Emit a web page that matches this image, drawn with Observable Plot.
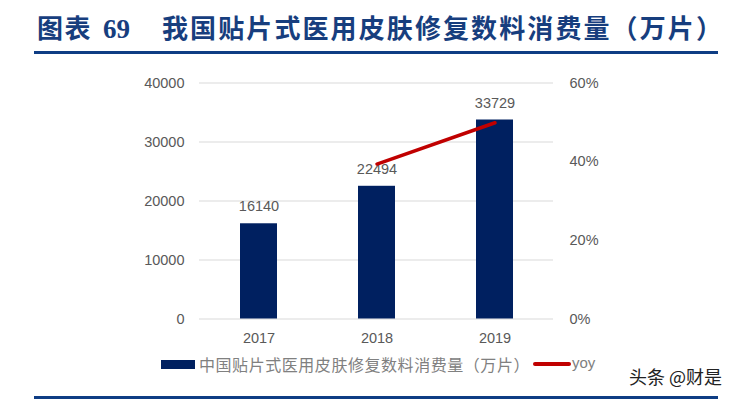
<!DOCTYPE html>
<html>
<head>
<meta charset="utf-8">
<script src="https://cdn.jsdelivr.net/npm/d3@7"></script>
<script src="https://cdn.jsdelivr.net/npm/@observablehq/plot@0.6"></script>
<style>
  html, body { margin: 0; padding: 0; background: #fff; }
  #wrap { position: relative; width: 739px; height: 399px; overflow: hidden; background: #fff; }
  #wrap > * { position: absolute; }
  .title { font-family: "Noto Sans CJK SC", sans-serif; font-weight: 700; font-size: 26px; line-height: 26px; color: #173E7E; white-space: nowrap; }
  .num { font-family: "Liberation Serif", serif; font-weight: 700; font-size: 27px; line-height: 26px; color: #173E7E; }
  .rule { background: #0E3D84; height: 3px; left: 34px; width: 684px; }
  .leg { font-family: "Noto Sans CJK SC", sans-serif; font-size: 16px; line-height: 16px; color: #808080; white-space: nowrap; }
  .legy { font-family: "Liberation Sans", Arial, sans-serif; font-size: 15px; line-height: 16px; color: #808080; }
  .wm { font-family: "Noto Sans CJK SC", sans-serif; font-size: 18px; line-height: 18px; color: #222; white-space: nowrap; }
</style>
</head>
<body>
<div id="wrap">
  <span class="title" style="left:37px; top:14px; letter-spacing:1.5px;">图表</span>
  <span class="num" style="left:103px; top:16px;">69</span>
  <span class="title" style="left:162px; top:14px; letter-spacing:2.1px;">我国贴片式医用皮肤修复数料消费量（万片）</span>
  <div class="rule" style="top:51px;"></div>
  <div id="chart" style="left:0; top:0;"></div>
  <div style="left:161px; top:360px; width:34px; height:9px; background:#002060;"></div>
  <span class="leg" style="left:199px; top:356px; letter-spacing:0.55px;">中国贴片式医用皮肤修复数料消费量（万片）</span>
  <div style="left:533px; top:362px; width:38px; height:3.5px; background:#C00000; border-radius:2px;"></div>
  <span class="legy" style="left:572px; top:355px;">yoy</span>
  <span class="wm" style="left:629px; top:367px;">头条 @财是</span>
  <div class="rule" style="top:396px; height:4px;"></div>
</div>
<script>
const years = ["2017", "2018", "2019"];
const consumption = [16140, 22494, 33729];
const yoyYears = ["2018", "2019"];
const yoy = [0.394, 0.499];
const leftTicks = [0, 10000, 20000, 30000, 40000];
const rightTicks = [0, 0.2, 0.4, 0.6];
const rightTickLabels = ["0%", "20%", "40%", "60%"];

const leftMax = 40000, rightMax = 0.6;
const toLeft = p => p * leftMax / rightMax;

const bars = years.map((y, i) => ({year: y, value: consumption[i]}));
const line = yoyYears.map((y, i) => ({year: y, yoy: yoy[i]}));
const rightPos = rightTicks.map(toLeft);

const chart = Plot.plot({
  width: 739,
  height: 399,
  marginTop: 82.5,
  marginBottom: 80.5,
  marginLeft: 199,
  marginRight: 186,
  style: {fontFamily: "'Liberation Sans', Arial, sans-serif", fontSize: "14.5px", color: "#595959", background: "transparent"},
  x: {domain: years, paddingInner: 0.69, paddingOuter: 0.345, label: null},
  y: {domain: [0, leftMax], label: null},
  marks: [
    Plot.gridY(leftTicks, {stroke: "#d9d9d9", strokeOpacity: 1, strokeWidth: 1}),
    Plot.barY(bars, {x: "year", y: "value", fill: "#002060"}),
    Plot.text(bars, {x: "year", y: "value", text: d => String(d.value), dy: -17, fill: "#595959"}),
    Plot.line(line, {x: "year", y: d => toLeft(d.yoy), stroke: "#C00000", strokeWidth: 3.5, strokeLinecap: "round"}),
    Plot.axisY(leftTicks, {anchor: "left", tickSize: 0, tickPadding: 15, tickFormat: d => String(d), label: null}),
    Plot.axisY(rightPos, {anchor: "right", tickSize: 0, tickPadding: 16, tickFormat: (d) => rightTickLabels[rightPos.indexOf(d)], label: null}),
    Plot.axisX({tickSize: 0, tickPadding: 14, label: null})
  ]
});
document.getElementById("chart").appendChild(chart);
</script>
</body>
</html>
